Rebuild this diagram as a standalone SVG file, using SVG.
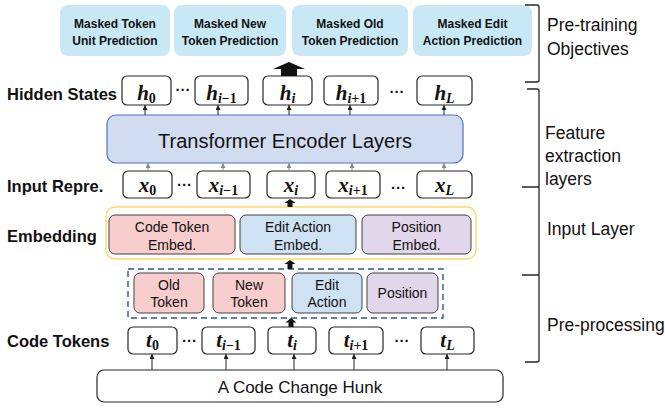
<svg xmlns="http://www.w3.org/2000/svg" width="665" height="410" viewBox="0 0 665 410">
<defs>
<marker id="ah" viewBox="0 0 6 6" refX="6" refY="3" markerWidth="5" markerHeight="5" markerUnits="userSpaceOnUse" orient="auto"><path d="M0,0 L6,3 L0,6 z" fill="#222"/></marker>
<marker id="ahg" viewBox="0 0 6 6" refX="6" refY="3" markerWidth="5" markerHeight="5" markerUnits="userSpaceOnUse" orient="auto"><path d="M0,0 L6,3 L0,6 z" fill="#8a8a8a"/></marker>
</defs>
<style>
.obj{fill:#c9e8f6;}
.objt{font-family:"Liberation Sans",Arial,sans-serif;font-weight:bold;font-size:12px;fill:#111;text-anchor:middle;}
.lbl{font-family:"Liberation Sans",Arial,sans-serif;font-weight:bold;font-size:16.5px;fill:#111;}
.side{font-family:"Liberation Sans",Arial,sans-serif;font-size:17.5px;fill:#111;}
.box{fill:#fff;stroke:#262626;stroke-width:1.2;}
.m{font-family:"Liberation Serif","Times New Roman",serif;font-weight:bold;font-style:italic;font-size:21px;fill:#111;text-anchor:middle;}
.s{font-size:14px;}
.u{font-style:normal;}
.dots{font-family:"Liberation Sans",Arial,sans-serif;font-weight:bold;font-size:15px;fill:#111;text-anchor:middle;}
.in{stroke:#404040;stroke-width:1;}
.t14{font-family:"Liberation Sans",Arial,sans-serif;font-size:14px;fill:#111;text-anchor:middle;}
.thin{stroke:#222;stroke-width:1;fill:none;marker-end:url(#ah);}
.thing{stroke:#8a8a8a;stroke-width:1;fill:none;marker-end:url(#ahg);}
.brk{stroke:#262626;stroke-width:1.3;fill:none;}
</style>

<g id="objectives">
<rect class="obj" x="60" y="5" width="110" height="51" rx="8"/>
<text class="objt" x="115" y="28">Masked Token</text>
<text class="objt" x="115" y="45">Unit Prediction</text>
<rect class="obj" x="174" y="5" width="112" height="51" rx="8"/>
<text class="objt" x="230" y="28">Masked New</text>
<text class="objt" x="230" y="45">Token Prediction</text>
<rect class="obj" x="292" y="5" width="116" height="51" rx="8"/>
<text class="objt" x="350" y="28">Masked Old</text>
<text class="objt" x="350" y="45">Token Prediction</text>
<rect class="obj" x="413" y="5" width="119" height="51" rx="8"/>
<text class="objt" x="472.5" y="28">Masked Edit</text>
<text class="objt" x="472.5" y="45">Action Prediction</text>
</g>

<g id="labels">
<text class="lbl" x="7" y="100">Hidden States</text>
<text class="lbl" x="7" y="192">Input Repre.</text>
<text class="lbl" x="7" y="242">Embedding</text>
<text class="lbl" x="7" y="347">Code Tokens</text>
</g>

<g id="hidden-states">
<rect class="box" x="122" y="76" width="49" height="29" rx="5"/>
<text class="m" x="146.5" y="100">h<tspan class="s u" dy="3">0</tspan></text>
<rect class="box" x="195" y="76" width="53" height="29" rx="5"/>
<text class="m" x="221.5" y="100">h<tspan class="s" dy="3">i</tspan><tspan class="s u">−1</tspan></text>
<rect class="box" x="263" y="76" width="49" height="29" rx="5"/>
<text class="m" x="287.5" y="100">h<tspan class="s" dy="3">i</tspan></text>
<rect class="box" x="324" y="76" width="54" height="29" rx="5"/>
<text class="m" x="351" y="100">h<tspan class="s" dy="3">i</tspan><tspan class="s u">+1</tspan></text>
<rect class="box" x="417" y="76" width="55" height="29" rx="5"/>
<text class="m" x="444.5" y="100">h<tspan class="s" dy="3">L</tspan></text>
<text class="dots" x="183" y="95">···</text>
<text class="dots" x="397" y="97">···</text>
</g>

<g id="transformer">
<rect x="107" y="115" width="356" height="48" rx="9" fill="#d2dcf0" stroke="#4a72b8" stroke-width="1.2"/>
<text x="285" y="148" font-family="Liberation Sans, Arial, sans-serif" font-size="20" fill="#111" text-anchor="middle">Transformer Encoder Layers</text>
</g>

<g id="input-repre">
<rect class="box" x="123" y="171" width="49" height="27" rx="5"/>
<text class="m" x="147.5" y="192">x<tspan class="s u" dy="3">0</tspan></text>
<rect class="box" x="197" y="171" width="53" height="27" rx="5"/>
<text class="m" x="223.5" y="192">x<tspan class="s" dy="3">i</tspan><tspan class="s u">−1</tspan></text>
<rect class="box" x="267" y="171" width="48" height="27" rx="5"/>
<text class="m" x="291" y="192">x<tspan class="s" dy="3">i</tspan></text>
<rect class="box" x="326" y="171" width="54" height="27" rx="5"/>
<text class="m" x="353" y="192">x<tspan class="s" dy="3">i</tspan><tspan class="s u">+1</tspan></text>
<rect class="box" x="417" y="171" width="55" height="27" rx="5"/>
<text class="m" x="444.5" y="192">x<tspan class="s" dy="3">L</tspan></text>
<text class="dots" x="184.5" y="190">···</text>
<text class="dots" x="398.5" y="193">···</text>
</g>

<g id="embedding">
<rect x="106" y="207" width="370" height="52" rx="9" fill="#fff" stroke="#ffd966" stroke-width="1.4"/>
<rect class="in" x="109" y="215" width="126" height="39" rx="6" fill="#f8cdcd"/>
<text class="t14" x="172" y="232">Code Token</text>
<text class="t14" x="172" y="250">Embed.</text>
<rect class="in" x="240" y="215" width="116" height="39" rx="6" fill="#cfe2f3"/>
<text class="t14" x="298" y="232">Edit Action</text>
<text class="t14" x="298" y="250">Embed.</text>
<rect class="in" x="362" y="215" width="109" height="39" rx="6" fill="#e2d6ea"/>
<text class="t14" x="416.5" y="232">Position</text>
<text class="t14" x="416.5" y="250">Embed.</text>
</g>

<g id="preprocess">
<rect x="128" y="269" width="315" height="49" fill="none" stroke="#2f5597" stroke-width="1.4" stroke-dasharray="6,4"/>
<rect class="in" x="134" y="273" width="70" height="40" rx="6" fill="#f8cdcd"/>
<text class="t14" x="169" y="290">Old</text>
<text class="t14" x="169" y="307">Token</text>
<rect class="in" x="213" y="273" width="72" height="40" rx="6" fill="#f8cdcd"/>
<text class="t14" x="249" y="290">New</text>
<text class="t14" x="249" y="307">Token</text>
<rect class="in" x="292" y="273" width="70" height="40" rx="6" fill="#cfe2f3"/>
<text class="t14" x="327" y="290">Edit</text>
<text class="t14" x="327" y="307">Action</text>
<rect class="in" x="367" y="273" width="71" height="40" rx="6" fill="#e2d6ea"/>
<text class="t14" x="402.5" y="298">Position</text>
</g>

<g id="code-tokens">
<rect class="box" x="128" y="327" width="49" height="27" rx="5"/>
<text class="m" x="152.5" y="347">t<tspan class="s u" dy="3">0</tspan></text>
<rect class="box" x="202" y="327" width="53" height="27" rx="5"/>
<text class="m" x="228.5" y="347">t<tspan class="s" dy="3">i</tspan><tspan class="s u">−1</tspan></text>
<rect class="box" x="268" y="327" width="48" height="27" rx="5"/>
<text class="m" x="292" y="347">t<tspan class="s" dy="3">i</tspan></text>
<rect class="box" x="329" y="327" width="54" height="27" rx="5"/>
<text class="m" x="356" y="347">t<tspan class="s" dy="3">i</tspan><tspan class="s u">+1</tspan></text>
<rect class="box" x="421" y="327" width="53" height="27" rx="5"/>
<text class="m" x="447.5" y="347">t<tspan class="s" dy="3">L</tspan></text>
<text class="dots" x="189.5" y="346">···</text>
<text class="dots" x="402" y="346">···</text>
</g>

<g id="hunk">
<rect class="box" x="97" y="370" width="406" height="32" rx="7"/>
<text x="300" y="393" font-family="Liberation Sans, Arial, sans-serif" font-size="17" fill="#111" text-anchor="middle">A Code Change Hunk</text>
</g>

<g id="side-labels">
<text class="side" x="547" y="31">Pre-training</text>
<text class="side" x="547" y="55">Objectives</text>
<text class="side" x="545" y="139">Feature</text>
<text class="side" x="545" y="162">extraction</text>
<text class="side" x="545" y="185">layers</text>
<text class="side" x="547" y="235">Input Layer</text>
<text class="side" x="547" y="331">Pre-processing</text>
</g>

<g id="connectors">
<line class="thin" x1="145" y1="115" x2="145" y2="105"/>
<line class="thin" x1="218" y1="115" x2="218" y2="105"/>
<line class="thin" x1="289" y1="115" x2="289" y2="105"/>
<line class="thin" x1="350" y1="115" x2="350" y2="105"/>
<line class="thin" x1="444" y1="115" x2="444" y2="105"/>
<line class="thing" x1="148" y1="171" x2="148" y2="163"/>
<line class="thing" x1="223" y1="171" x2="223" y2="163"/>
<line class="thing" x1="289" y1="171" x2="289" y2="163"/>
<line class="thing" x1="352" y1="171" x2="352" y2="163"/>
<line class="thing" x1="444" y1="171" x2="444" y2="163"/>
<line class="thin" x1="152" y1="370" x2="152" y2="354"/>
<line class="thin" x1="226" y1="370" x2="226" y2="354"/>
<line class="thin" x1="294" y1="370" x2="294" y2="354"/>
<line class="thin" x1="354" y1="370" x2="354" y2="354"/>
<line class="thin" x1="447" y1="370" x2="447" y2="354"/>
<polygon points="289,62 305,69 297,69 297,76 281,76 281,69 273,69" fill="#111"/>
<polygon points="290,199 295.5,203 292.5,203 292.5,207 287.5,207 287.5,203 284.5,203" fill="#111"/>
<polygon points="290,260 295.5,264 292.5,264 292.5,269 287.5,269 287.5,264 284.5,264" fill="#111"/>
<polygon points="291,318 296.5,322.5 293.5,322.5 293.5,327 288.5,327 288.5,322.5 285.5,322.5" fill="#111"/>
</g>

<g id="brackets">
<path class="brk" d="M525,5 H537 Q539,5 539,7 V80 Q539,82 537,82 H525"/>
<path class="brk" d="M527,89 H537 Q539,89 539,91 V360 Q539,362 537,362 H525"/>
<path class="brk" d="M522,187 H539 M522,275 H539"/>
</g>
</svg>
